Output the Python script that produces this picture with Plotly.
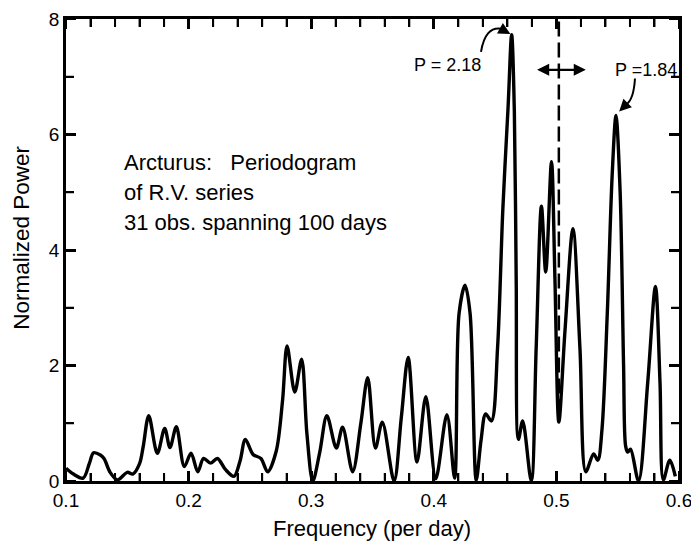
import numpy as np
import plotly.graph_objects as go

# Periodogram (frequency per day, normalized power)
freq = [0.1000, 0.1060, 0.1140, 0.1190, 0.1225, 0.1280, 0.1310, 0.1360, 0.1420,
        0.1500, 0.1545, 0.1600, 0.1630, 0.1675, 0.1745, 0.1805, 0.1848, 0.1900,
        0.1965, 0.2020, 0.2075, 0.2122, 0.2180, 0.2235, 0.2300, 0.2370, 0.2420,
        0.2463, 0.2526, 0.2590, 0.2645, 0.2715, 0.2767, 0.2803, 0.2866, 0.2922,
        0.2965, 0.3013, 0.3070, 0.3128, 0.3205, 0.3256, 0.3338, 0.3405, 0.3461,
        0.3524, 0.3580, 0.3676, 0.3735, 0.3791, 0.3863, 0.3935, 0.4016, 0.4107,
        0.4170, 0.4206, 0.4255, 0.4296, 0.4346, 0.4385, 0.4423, 0.4470, 0.4520,
        0.4563, 0.4606, 0.4635, 0.4657, 0.4672, 0.4690, 0.4725, 0.4795, 0.4835,
        0.4878, 0.4913, 0.4960, 0.4988, 0.5020, 0.5070, 0.5135, 0.5192, 0.5240,
        0.5303, 0.5338, 0.5372, 0.5415, 0.5455, 0.5486, 0.5520, 0.5548, 0.5565,
        0.5582, 0.5605, 0.5670, 0.5745, 0.5808, 0.5845, 0.5872, 0.5925, 0.5970]
power = [0.22, 0.12, 0.05, 0.30, 0.49, 0.45, 0.39, 0.15, 0.02,
         0.15, 0.12, 0.30, 0.60, 1.13, 0.48, 0.91, 0.58, 0.94,
         0.25, 0.48, 0.16, 0.39, 0.31, 0.39, 0.20, 0.08, 0.35,
         0.72, 0.46, 0.39, 0.16, 0.52, 1.41, 2.34, 1.54, 2.11,
         0.82, 0.00, 0.50, 1.13, 0.57, 0.93, 0.16, 1.00, 1.79,
         0.57, 1.02, 0.00, 1.10, 2.14, 0.33, 1.46, 0.04, 1.15,
         0.05, 2.90, 3.39, 2.90, 0.01, 0.70, 1.16, 1.04, 2.30,
         4.70, 6.48, 7.73, 6.40, 3.50, 0.72, 1.04, 0.00, 2.30,
         4.76, 3.62, 5.53, 3.50, 1.02, 2.60, 4.37, 2.30, 0.16,
         0.47, 0.36, 0.90, 2.90, 5.30, 6.33, 5.00, 2.00, 0.60,
         0.50, 0.55, 0.00, 1.71, 3.37, 1.71, 0.02, 0.36, 0.08]

x_tick_labels = ["0.1", "0.2", "0.3", "0.4", "0.5", "0.6"]
y_tick_labels = ["0", "2", "4", "6", "8"]

FONT = "Liberation Sans"
BLACK = "black"

fig = go.Figure()
fig.add_trace(go.Scatter(
    x=freq, y=power, mode="lines",
    line=dict(color=BLACK, width=3.4, shape="spline", smoothing=0.9),
    hoverinfo="skip", showlegend=False))

x_step = float(x_tick_labels[1]) - float(x_tick_labels[0])
y_step = float(y_tick_labels[1]) - float(y_tick_labels[0])

fig.update_xaxes(
    range=[0.1, 0.6], tickmode="linear", tick0=float(x_tick_labels[0]), dtick=x_step,
    tickformat=".1f", ticklabeloverflow="allow",
    ticks="inside", ticklen=10, tickwidth=2.5, tickcolor=BLACK,
    minor=dict(dtick=0.02, ticks="inside", ticklen=8, tickwidth=2, tickcolor=BLACK),
    showline=True, linewidth=2.5, linecolor=BLACK, mirror="ticks",
    showgrid=False, zeroline=False,
    tickfont=dict(family=FONT, size=19, color=BLACK),
)
fig.update_yaxes(
    range=[0, 8], tickmode="linear", tick0=float(y_tick_labels[0]), dtick=y_step,
    ticks="inside", ticklen=10, tickwidth=2.5, tickcolor=BLACK,
    minor=dict(dtick=1, ticks="inside", ticklen=8, tickwidth=2, tickcolor=BLACK),
    showline=True, linewidth=2.5, linecolor=BLACK, mirror="ticks",
    showgrid=False, zeroline=False,
    tickfont=dict(family=FONT, size=19, color=BLACK),
)

# tick marks on all four sides, placed on the axes' own scales
x_marks = np.round(np.arange(0.10, 0.6001, 0.02), 2)
y_marks = list(range(0, 9))
for v in x_marks:
    major = any(abs(v - float(t)) < 1e-9 for t in x_tick_labels)
    L = 10 if major else 8
    fig.add_shape(type="line", xref="x", yref="paper", ysizemode="pixel", yanchor=0,
                  x0=float(v), x1=float(v), y0=0, y1=L, line=dict(color=BLACK, width=2))
    fig.add_shape(type="line", xref="x", yref="paper", ysizemode="pixel", yanchor=1,
                  x0=float(v), x1=float(v), y0=0, y1=-L, line=dict(color=BLACK, width=2))
for v in y_marks:
    major = str(v) in y_tick_labels
    L = 10 if major else 8
    fig.add_shape(type="line", xref="paper", yref="y", xsizemode="pixel", xanchor=0,
                  x0=0, x1=L, y0=v, y1=v, line=dict(color=BLACK, width=2))
    fig.add_shape(type="line", xref="paper", yref="y", xsizemode="pixel", xanchor=1,
                  x0=0, x1=-L, y0=v, y1=v, line=dict(color=BLACK, width=2))

# axis titles
fig.add_annotation(x=0.499, y=-0.102, xref="paper", yref="paper",
                   xanchor="center", yanchor="middle",
                   text="Frequency (per day)", showarrow=False,
                   font=dict(family=FONT, size=22, color=BLACK))
fig.add_annotation(x=-0.072, y=0.526, xref="paper", yref="paper",
                   xanchor="center", yanchor="middle",
                   text="Normalized Power", textangle=-90, showarrow=False,
                   font=dict(family=FONT, size=22.5, color=BLACK))

# dashed vertical line near 0.5 per day
fig.add_shape(type="line", xref="x", yref="y", x0=0.502, x1=0.502, y0=1.15, y1=8,
              line=dict(color=BLACK, width=2.5, dash="15px,6px"))

# double-headed arrow
fig.add_annotation(x=0.524, y=7.12, ax=0.483, ay=7.12, xref="x", yref="y",
                   axref="x", ayref="y", text="", showarrow=True,
                   arrowhead=2, arrowside="end+start", arrowsize=1.1, arrowwidth=2.2,
                   arrowcolor=BLACK)

# curved pointer to the P = 2.18 peak (curve + short arrow with head)
fig.add_shape(type="path", xref="x", yref="y",
              path="M 0.4385,7.43 Q 0.4420,7.88 0.4552,7.83",
              line=dict(color=BLACK, width=2))
fig.add_annotation(x=0.4625, y=7.74, ax=-9, ay=-5, xref="x", yref="y",
                   text="", showarrow=True,
                   arrowhead=2, arrowsize=1.2, arrowwidth=2, arrowcolor=BLACK)

# curved pointer to the P = 1.84 peak
fig.add_shape(type="path", xref="x", yref="y",
              path="M 0.5641,6.97 Q 0.5630,6.60 0.5569,6.52",
              line=dict(color=BLACK, width=2))
fig.add_annotation(x=0.5512, y=6.40, ax=7, ay=-7, xref="x", yref="y",
                   text="", showarrow=True,
                   arrowhead=2, arrowsize=1.2, arrowwidth=2, arrowcolor=BLACK)

fig.add_annotation(x=0.4108, y=7.20, xref="x", yref="y", text="P = 2.18",
                   showarrow=False, font=dict(family=FONT, size=18, color=BLACK))
fig.add_annotation(x=0.5730, y=7.12, xref="x", yref="y", text="P =1.84",
                   showarrow=False, font=dict(family=FONT, size=18, color=BLACK))

text_lines = ["Arcturus:&nbsp;&nbsp; Periodogram", "of R.V. series", "31 obs. spanning 100 days"]
text_y = [5.52, 4.99, 4.47]
for line, yy in zip(text_lines, text_y):
    fig.add_annotation(x=0.1455, y=yy, xref="x", yref="y", text=line, xanchor="left",
                       showarrow=False, font=dict(family=FONT, size=22, color=BLACK))

fig.update_layout(
    template="none",
    width=691, height=541,
    margin=dict(l=66, r=12, t=19, b=60),
    showlegend=False,
)

fig.write_html("out.html", config={"displayModeBar": False},
               post_script="document.body.style.margin='0';document.body.style.overflow='hidden';")
